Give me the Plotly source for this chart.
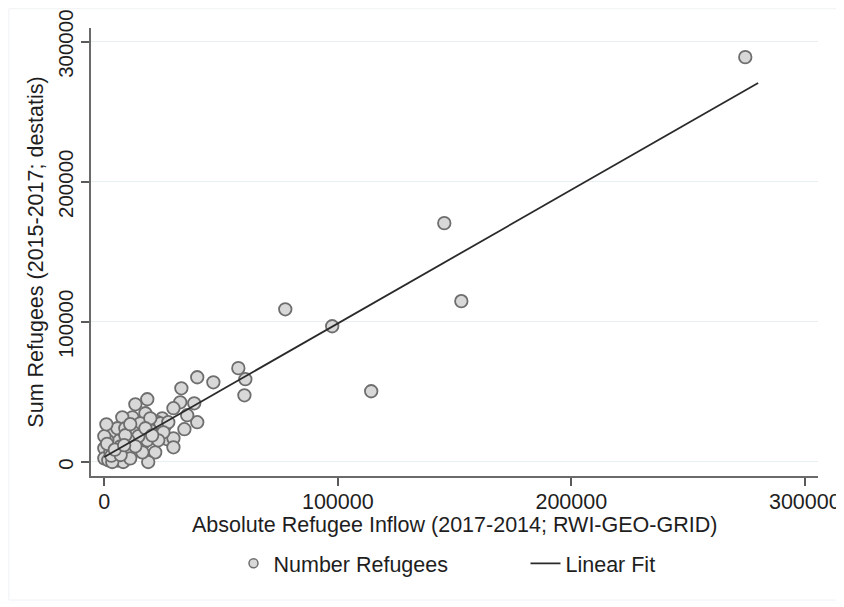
import plotly.graph_objects as go

# Scatter data: absolute refugee inflow (x) vs. sum of refugees (y)
inflow = [274500, 145600, 152900, 114300, 97600, 77500, 57400, 60400, 60000, 46700,
          39800, 33000, 32500, 38500, 39800, 34300, 29600, 18400, 13300, 27000,
          29600, 29600, 24800, 26100, 17600, 12000, 7700, 22700, 15400, 3400,
          4700, 21800, 16700, 18800, 400, 400, 6000, 10300, 24000, 27400,
          12400, 18400, 16300, 2600, 5600, 0, 0, 5600, 8100, 19700,
          14600, 10300, 6900, 2600, 1700, 3400, 9000, 13300, 11100, 1300,
          0, 900, 19700, 35500, 25300, 23100, 9000, 17600, 11100, 1200,
          3000, 7000, 4500, 8500, 20500]
refugees = [289000, 170500, 114800, 50500, 96900, 109000, 67000, 59100, 47600, 56900,
            60500, 52600, 42600, 41900, 28400, 23400, 38400, 44800, 41200, 16200,
            16900, 10500, 31200, 26200, 34800, 31900, 31900, 28400, 27600, 22600,
            15500, 6900, 13400, 0, 3400, 10500, 1200, 6900, 27600, 28400,
            21200, 15500, 6900, 21200, 24100, 9800, 2600, 1200, 0, 22600,
            18400, 15500, 11200, 6900, 1200, 0, 24100, 11200, 2600, 15500,
            18400, 26900, 31200, 33400, 21200, 15500, 19100, 24100, 27000, 13000,
            4500, 5000, 8800, 12000, 19000]

# Linear fit endpoints
fit_x = [0, 280000]
fit_y = [3600, 270500]

tick_vals = [0, 100000, 200000, 300000]
tick_text = ["0", "100000", "200000", "300000"]

x_title = "Absolute Refugee Inflow (2017-2014; RWI-GEO-GRID)"
y_title = "Sum Refugees (2015-2017; destatis)"

FONT = "Liberation Sans, Arial, sans-serif"
TXT = "#1e1e1e"
FS = 21.5

fig = go.Figure()
fig.add_trace(go.Scatter(
    x=inflow, y=refugees, mode="markers", showlegend=False,
    marker=dict(size=12.5, color="#d8d8d8", line=dict(color="#6e6e6e", width=1.8)),
))
fig.add_trace(go.Scatter(
    x=fit_x, y=fit_y, mode="lines", showlegend=False,
    line=dict(color="#2a2a2a", width=1.8),
))
# legend entries
fig.add_trace(go.Scatter(
    x=[None], y=[None], mode="markers", name="Number Refugees",
    marker=dict(size=9, color="#d8d8d8", line=dict(color="#6e6e6e", width=1.5)),
))
fig.add_trace(go.Scatter(
    x=[None], y=[None], mode="lines", name="Linear Fit",
    line=dict(color="#2a2a2a", width=1.8),
))

axis_common = dict(
    showline=True, linecolor="#6a6a6a", linewidth=1.8,
    ticks="outside", ticklen=8, tickwidth=1.5, tickcolor="#5a5a5a",
    zeroline=False, mirror=False, automargin=False,
    ticklabeloverflow="allow",
    tickvals=tick_vals, ticktext=tick_text,
)

# The page body has an 8px margin, so the figure is sized to end at the window edge.
fig.update_layout(
    width=836, height=599,
    margin=dict(l=83, r=26, t=20, b=131, autoexpand=False),
    paper_bgcolor="white", plot_bgcolor="white",
    font=dict(family=FONT, size=FS, color=TXT),
    xaxis=dict(
        range=[-5700, 305650], showgrid=False,
        ticklabelstandoff=-3,
        tickfont=dict(family=FONT, size=FS, color=TXT),
        **axis_common,
    ),
    yaxis=dict(
        range=[-10000, 309800], showgrid=True, gridcolor="#e8eff1", gridwidth=1,
        tickangle=-90,
        tickfont=dict(family=FONT, size=20.5, color=TXT),
        title=dict(text=y_title, font=dict(family=FONT, size=FS, color=TXT), standoff=4),
        ticklabelstandoff=0, ticklabelshift=5,
        **axis_common,
    ),
    annotations=[dict(text=x_title, xref="paper", yref="paper", x=0.5, y=-0.109,
                      xanchor="center", yanchor="middle", showarrow=False,
                      font=dict(family=FONT, size=FS, color=TXT))],
    legend=dict(
        orientation="h", x=0.196, xanchor="left", y=-0.195, yanchor="middle",
        font=dict(family=FONT, size=FS, color=TXT),
        bgcolor="rgba(0,0,0,0)", entrywidth=247, entrywidthmode="pixels",
    ),
    shapes=[dict(type="rect", xref="paper", yref="paper",
                 x0=-0.113, x1=1.0275, y0=-0.277, y1=1.043,
                 line=dict(color="#eef1f3", width=1), fillcolor="rgba(0,0,0,0)",
                 layer="below")],
)

fig.write_html("out.html")
